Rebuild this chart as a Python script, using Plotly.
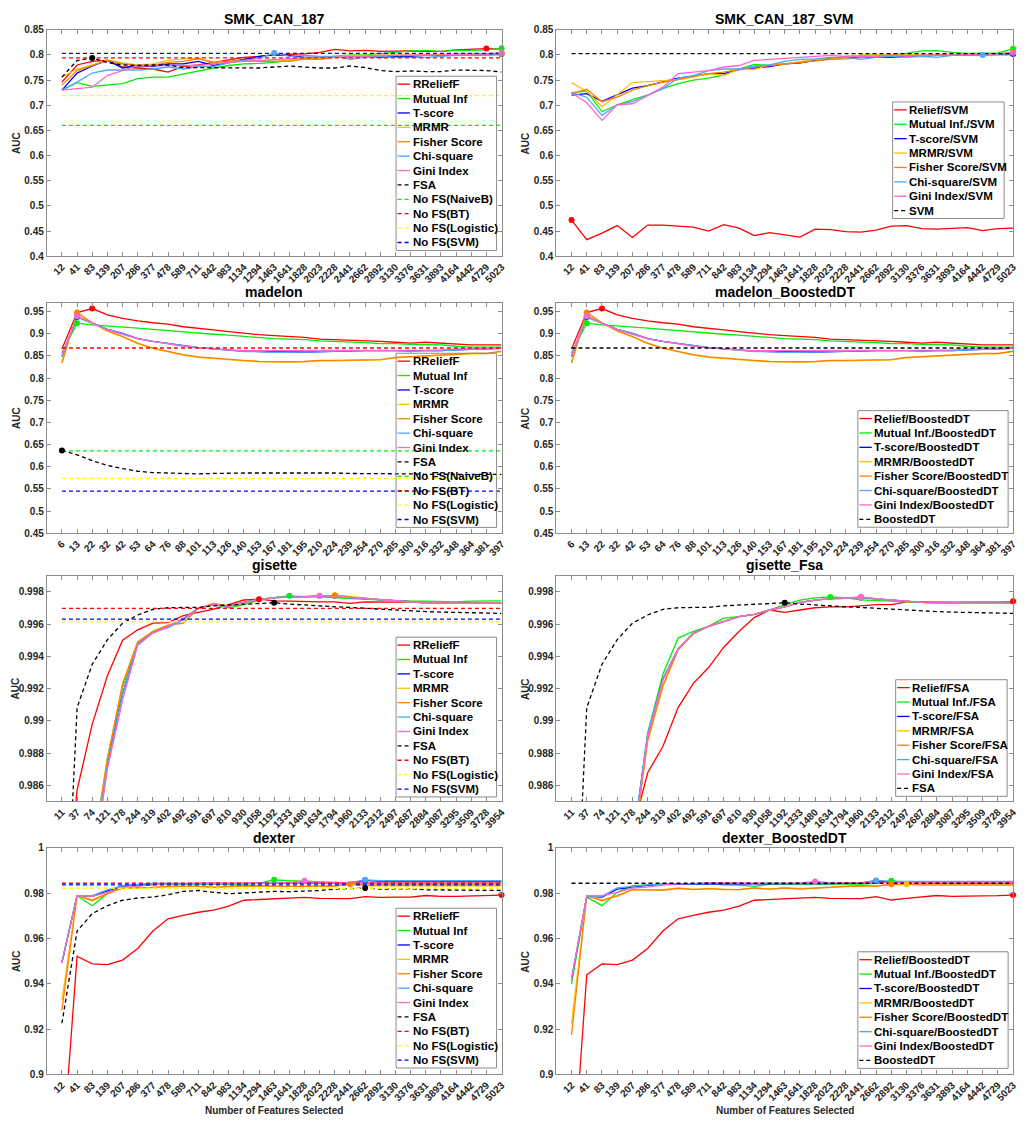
import numpy as np
import plotly.graph_objects as go

W, H = 1036, 1123
FONT = "Liberation Sans, Arial, sans-serif"
TXT = "#262626"
AXC = "#8c8c8c"

# ---------------- tick labels ----------------
smk_x = ["12", "41", "83", "139", "207", "286", "377", "478", "589", "711", "842", "983", "1134", "1294",
         "1463", "1641", "1828", "2023", "2228", "2441", "2662", "2892", "3130", "3376", "3631", "3893",
         "4164", "4442", "4729", "5023"]
mad_x = ["6", "13", "22", "32", "42", "53", "64", "76", "88", "101", "113", "126", "140", "153", "167",
         "181", "195", "210", "224", "239", "254", "270", "285", "300", "316", "332", "348", "364", "381", "397"]
gis_x = ["11", "37", "74", "121", "178", "244", "319", "402", "492", "591", "697", "810", "930", "1058",
         "1192", "1333", "1480", "1634", "1794", "1960", "2133", "2312", "2497", "2687", "2884", "3087",
         "3295", "3509", "3728", "3954"]
dex_x = list(smk_x)

# ---------------- SMK_CAN_187 ----------------
relief_smk = [0.746, 0.780, 0.787, 0.789, 0.776, 0.774, 0.772, 0.766, 0.777, 0.780, 0.785, 0.791, 0.795, 0.797, 0.800,
              0.801, 0.802, 0.805, 0.811, 0.808, 0.809, 0.807, 0.808, 0.808, 0.807, 0.807, 0.810, 0.811, 0.8125, 0.8115]
mi_smk = [0.730, 0.745, 0.7375, 0.741, 0.743, 0.753, 0.756, 0.756, 0.762, 0.769, 0.774, 0.779, 0.782, 0.783, 0.785,
          0.789, 0.792, 0.795, 0.797, 0.800, 0.800, 0.802, 0.805, 0.808, 0.809, 0.807, 0.809, 0.809, 0.810, 0.813]
ts_smk = [0.730, 0.764, 0.778, 0.789, 0.774, 0.779, 0.777, 0.782, 0.782, 0.787, 0.779, 0.785, 0.791, 0.797, 0.800,
          0.799, 0.795, 0.795, 0.795, 0.797, 0.797, 0.795, 0.797, 0.797, 0.799, 0.799, 0.800, 0.800, 0.800, 0.802]
mrmr_smk = [0.756, 0.772, 0.780, 0.789, 0.784, 0.780, 0.782, 0.789, 0.792, 0.793, 0.785, 0.787, 0.787, 0.789, 0.787,
            0.789, 0.792, 0.792, 0.795, 0.799, 0.799, 0.799, 0.799, 0.800, 0.800, 0.801, 0.801, 0.802, 0.802, 0.803]
fisher_smk = [0.740, 0.769, 0.779, 0.790, 0.782, 0.779, 0.779, 0.785, 0.787, 0.792, 0.785, 0.787, 0.789, 0.787, 0.787,
              0.787, 0.792, 0.791, 0.795, 0.795, 0.797, 0.799, 0.799, 0.799, 0.800, 0.800, 0.801, 0.801, 0.802, 0.803]
chi_smk = [0.730, 0.746, 0.764, 0.770, 0.770, 0.770, 0.772, 0.776, 0.772, 0.777, 0.777, 0.784, 0.789, 0.793, 0.804,
           0.797, 0.799, 0.797, 0.797, 0.791, 0.795, 0.797, 0.795, 0.795, 0.795, 0.797, 0.799, 0.799, 0.799, 0.800]
gini_smk = [0.730, 0.733, 0.736, 0.759, 0.769, 0.779, 0.779, 0.779, 0.780, 0.779, 0.782, 0.785, 0.787, 0.789, 0.790,
            0.792, 0.795, 0.795, 0.795, 0.797, 0.797, 0.799, 0.799, 0.800, 0.800, 0.800, 0.801, 0.802, 0.802, 0.805]
fsa_smk = [0.756, 0.789, 0.794, 0.785, 0.780, 0.779, 0.780, 0.780, 0.775, 0.775, 0.775, 0.775, 0.774, 0.774, 0.776,
           0.778, 0.776, 0.774, 0.774, 0.778, 0.775, 0.769, 0.767, 0.768, 0.767, 0.767, 0.770, 0.770, 0.769, 0.766]
smk_nofs = {"NaiveB": 0.660, "BT": 0.794, "Logistic": 0.719, "SVM": 0.803}

# ---------------- SMK_CAN_187_SVM ----------------
relief_svm = [0.472, 0.433, 0.446, 0.461, 0.4375, 0.462, 0.462, 0.460, 0.458, 0.450, 0.463, 0.456, 0.441, 0.447, 0.443,
              0.438, 0.454, 0.453, 0.449, 0.448, 0.452, 0.460, 0.461, 0.455, 0.454, 0.455, 0.457, 0.451, 0.455, 0.456]
mi_svm = [0.725, 0.728, 0.687, 0.701, 0.711, 0.720, 0.733, 0.743, 0.750, 0.754, 0.760, 0.772, 0.781, 0.779, 0.782,
          0.784, 0.789, 0.793, 0.797, 0.799, 0.799, 0.800, 0.803, 0.808, 0.8085, 0.805, 0.803, 0.803, 0.804, 0.812]
ts_svm = [0.720, 0.723, 0.708, 0.721, 0.734, 0.739, 0.746, 0.754, 0.758, 0.763, 0.763, 0.771, 0.774, 0.777, 0.782,
          0.784, 0.789, 0.792, 0.795, 0.795, 0.795, 0.795, 0.797, 0.797, 0.799, 0.799, 0.800, 0.800, 0.801, 0.802]
mrmr_svm = [0.745, 0.728, 0.697, 0.721, 0.745, 0.747, 0.749, 0.751, 0.756, 0.763, 0.759, 0.772, 0.771, 0.780, 0.782,
            0.787, 0.791, 0.792, 0.795, 0.800, 0.800, 0.800, 0.800, 0.800, 0.801, 0.800, 0.802, 0.802, 0.802, 0.805]
fisher_svm = [0.723, 0.732, 0.707, 0.716, 0.730, 0.739, 0.746, 0.751, 0.758, 0.763, 0.766, 0.771, 0.776, 0.779, 0.782,
              0.784, 0.787, 0.791, 0.792, 0.795, 0.797, 0.799, 0.799, 0.799, 0.799, 0.799, 0.799, 0.800, 0.802, 0.805]
chi_svm = [0.725, 0.716, 0.680, 0.701, 0.707, 0.720, 0.733, 0.754, 0.759, 0.769, 0.772, 0.772, 0.778, 0.780, 0.787,
           0.791, 0.792, 0.795, 0.795, 0.791, 0.795, 0.797, 0.795, 0.797, 0.795, 0.799, 0.799, 0.800, 0.799, 0.800]
gini_svm = [0.725, 0.705, 0.670, 0.701, 0.703, 0.720, 0.736, 0.763, 0.766, 0.769, 0.776, 0.779, 0.789, 0.791, 0.792,
            0.795, 0.797, 0.799, 0.797, 0.797, 0.797, 0.800, 0.797, 0.799, 0.799, 0.800, 0.801, 0.801, 0.802, 0.805]
svm_base = 0.8025

# ---------------- madelon ----------------
relief_mad = [0.866, 0.948, 0.957, 0.943, 0.935, 0.929, 0.925, 0.922, 0.916, 0.913, 0.909, 0.905, 0.901, 0.898, 0.896,
              0.894, 0.892, 0.888, 0.887, 0.885, 0.884, 0.883, 0.881, 0.879, 0.881, 0.879, 0.877, 0.875, 0.875, 0.875]
mi_mad = [0.857, 0.924, 0.920, 0.918, 0.915, 0.913, 0.910, 0.907, 0.905, 0.901, 0.899, 0.897, 0.894, 0.891, 0.889,
          0.888, 0.887, 0.884, 0.883, 0.881, 0.880, 0.878, 0.878, 0.876, 0.875, 0.875, 0.872, 0.870, 0.870, 0.870]
ts_mad = [0.849, 0.938, 0.924, 0.910, 0.901, 0.889, 0.883, 0.878, 0.873, 0.869, 0.866, 0.863, 0.861, 0.860, 0.859,
          0.859, 0.859, 0.860, 0.861, 0.862, 0.862, 0.862, 0.862, 0.861, 0.862, 0.862, 0.864, 0.865, 0.866, 0.867]
mrmr_mad = [0.836, 0.946, 0.924, 0.906, 0.893, 0.878, 0.867, 0.859, 0.852, 0.847, 0.844, 0.841, 0.839, 0.837, 0.836,
            0.836, 0.837, 0.839, 0.839, 0.840, 0.841, 0.841, 0.846, 0.848, 0.850, 0.852, 0.853, 0.855, 0.855, 0.860]
fisher_mad = [0.834, 0.948, 0.925, 0.907, 0.894, 0.879, 0.868, 0.860, 0.853, 0.848, 0.845, 0.842, 0.840, 0.838, 0.837,
              0.837, 0.838, 0.840, 0.840, 0.841, 0.842, 0.842, 0.847, 0.849, 0.851, 0.853, 0.854, 0.856, 0.856, 0.861]
chi_mad = [0.849, 0.939, 0.924, 0.910, 0.901, 0.889, 0.883, 0.878, 0.873, 0.869, 0.866, 0.863, 0.860, 0.860, 0.858,
           0.858, 0.859, 0.860, 0.860, 0.862, 0.862, 0.862, 0.862, 0.860, 0.862, 0.862, 0.864, 0.865, 0.866, 0.867]
gini_mad = [0.853, 0.940, 0.924, 0.909, 0.899, 0.889, 0.883, 0.877, 0.872, 0.869, 0.866, 0.864, 0.862, 0.862, 0.862,
            0.862, 0.862, 0.862, 0.862, 0.863, 0.862, 0.862, 0.862, 0.863, 0.863, 0.864, 0.866, 0.866, 0.866, 0.867]
fsa_mad = [0.637, 0.627, 0.614, 0.603, 0.596, 0.590, 0.587, 0.586, 0.584, 0.584, 0.585, 0.586, 0.586, 0.586, 0.586,
           0.587, 0.587, 0.586, 0.586, 0.585, 0.585, 0.585, 0.584, 0.584, 0.583, 0.583, 0.583, 0.583, 0.583, 0.583]
mad_nofs = {"NaiveB": 0.636, "BT": 0.868, "Logistic": 0.574, "SVM": 0.545}
mad_bdt_base = 0.868

# ---------------- gisette ----------------
relief_gis = [0.9770, 0.9857, 0.9898, 0.9928, 0.9950, 0.99565, 0.99606, 0.99610, 0.99653, 0.99673, 0.99694, 0.99722,
              0.99750, 0.99755, 0.99745, 0.99743, 0.99739, 0.99739, 0.99739, 0.99729, 0.99739, 0.99739, 0.99739,
              0.99735, 0.99735, 0.99733, 0.99733, 0.99733, 0.99733, 0.99729]
mi_gis = [0.9700, 0.9750, 0.9816, 0.9877, 0.99208, 0.99488, 0.99551, 0.99586, 0.99633, 0.99698, 0.99722, 0.99702,
          0.99722, 0.99749, 0.99765, 0.99776, 0.99771, 0.99769, 0.99765, 0.99759, 0.99755, 0.99749, 0.99745,
          0.99743, 0.99743, 0.99739, 0.99739, 0.99743, 0.99743, 0.99745]
ts_gis = [0.9700, 0.9750, 0.9810, 0.9874, 0.99167, 0.99478, 0.99547, 0.99586, 0.99633, 0.99698, 0.99724, 0.99712,
          0.99735, 0.99753, 0.99765, 0.99767, 0.99769, 0.99771, 0.99777, 0.99765, 0.99759, 0.99751, 0.99745,
          0.99737, 0.99733, 0.99731, 0.99729, 0.99729, 0.99729, 0.99729]
mrmr_gis = [0.9700, 0.9750, 0.9815, 0.9876, 0.99229, 0.99490, 0.99555, 0.99594, 0.99606, 0.99698, 0.99729, 0.99712,
            0.99733, 0.99753, 0.99765, 0.99767, 0.99769, 0.99773, 0.99778, 0.99767, 0.99761, 0.99753, 0.99743,
            0.99737, 0.99733, 0.99731, 0.99729, 0.99729, 0.99729, 0.99729]
fisher_gis = [0.9700, 0.9750, 0.9815, 0.9876, 0.99229, 0.99490, 0.99555, 0.99594, 0.99606, 0.99698, 0.99729, 0.99712,
              0.99733, 0.99753, 0.99765, 0.99767, 0.99769, 0.99773, 0.99780, 0.99769, 0.99761, 0.99753, 0.99743,
              0.99737, 0.99733, 0.99731, 0.99729, 0.99729, 0.99729, 0.99729]
chi_gis = [0.9700, 0.9750, 0.9810, 0.9872, 0.99167, 0.99478, 0.99547, 0.99578, 0.99625, 0.99698, 0.99722, 0.99712,
           0.99735, 0.99753, 0.99765, 0.99767, 0.99769, 0.99775, 0.99769, 0.99765, 0.99759, 0.99751, 0.99745,
           0.99737, 0.99733, 0.99731, 0.99729, 0.99729, 0.99729, 0.99729]
gini_gis = [0.9700, 0.9750, 0.9805, 0.9870, 0.99127, 0.99468, 0.99545, 0.99586, 0.99633, 0.99698, 0.99722, 0.99712,
            0.99735, 0.99753, 0.99765, 0.99767, 0.99769, 0.99776, 0.99773, 0.99765, 0.99759, 0.99751, 0.99745,
            0.99737, 0.99733, 0.99731, 0.99729, 0.99729, 0.99729, 0.99729]
fsa_gis = [0.9710, 0.99082, 0.99351, 0.99504, 0.99606, 0.99657, 0.99692, 0.99702, 0.99704, 0.99704, 0.99714, 0.99718,
           0.99722, 0.99729, 0.99733, 0.99725, 0.99718, 0.99714, 0.99708, 0.99704, 0.99698, 0.99692, 0.99688,
           0.99682, 0.99678, 0.99675, 0.99675, 0.99671, 0.99669, 0.99667]
gis_nofs = {"BT": 0.99698, "Logistic": 0.99616, "SVM": 0.99631}

# ---------------- gisette_Fsa ----------------
relief_gfsa = [0.9650, 0.9700, 0.9730, 0.9780, 0.9831, 0.98678, 0.98841, 0.99082, 0.99233, 0.99331, 0.99457, 0.99555,
               0.99641, 0.99688, 0.99673, 0.99688, 0.99702, 0.99708, 0.99708, 0.99714, 0.99722, 0.99722, 0.99739,
               0.99739, 0.99735, 0.99733, 0.99735, 0.99735, 0.99735, 0.99742]
mi_gfsa = [0.9650, 0.9700, 0.9740, 0.9780, 0.9821, 0.98922, 0.99290, 0.99514, 0.99555, 0.99586, 0.99637, 0.99647,
           0.99661, 0.99688, 0.99722, 0.99749, 0.99763, 0.99769, 0.99763, 0.99751, 0.99749, 0.99743, 0.99739,
           0.99739, 0.99737, 0.99737, 0.99737, 0.99737, 0.99737, 0.99739]
ts_gfsa = [0.9650, 0.9700, 0.9740, 0.9780, 0.9822, 0.98910, 0.99260, 0.99445, 0.99545, 0.99586, 0.99616, 0.99647,
           0.99661, 0.99688, 0.99708, 0.99735, 0.99749, 0.99759, 0.99761, 0.99765, 0.99757, 0.99749, 0.99741,
           0.99735, 0.99733, 0.99731, 0.99731, 0.99731, 0.99731, 0.99731]
mrmr_gfsa = [0.9650, 0.9700, 0.9740, 0.9780, 0.9818, 0.98870, 0.99210, 0.99440, 0.99540, 0.99586, 0.99616, 0.99647,
             0.99661, 0.99688, 0.99708, 0.99735, 0.99749, 0.99759, 0.99761, 0.99765, 0.99757, 0.99749, 0.99741,
             0.99735, 0.99733, 0.99731, 0.99731, 0.99731, 0.99731, 0.99731]
fisher_gfsa = [0.9650, 0.9700, 0.9740, 0.9780, 0.9818, 0.98880, 0.99220, 0.99441, 0.99541, 0.99586, 0.99616, 0.99647,
               0.99661, 0.99688, 0.99708, 0.99735, 0.99749, 0.99759, 0.99761, 0.99765, 0.99757, 0.99749, 0.99741,
               0.99735, 0.99733, 0.99731, 0.99731, 0.99731, 0.99731, 0.99731]
chi_gfsa = [0.9650, 0.9700, 0.9740, 0.9780, 0.9823, 0.98920, 0.99260, 0.99445, 0.99545, 0.99586, 0.99616, 0.99647,
            0.99661, 0.99688, 0.99708, 0.99735, 0.99749, 0.99759, 0.99761, 0.99765, 0.99757, 0.99749, 0.99741,
            0.99735, 0.99733, 0.99731, 0.99731, 0.99731, 0.99731, 0.99731]
gini_gfsa = [0.9650, 0.9700, 0.9740, 0.9780, 0.9820, 0.98900, 0.99250, 0.99447, 0.99547, 0.99586, 0.99616, 0.99647,
             0.99661, 0.99688, 0.99708, 0.99735, 0.99749, 0.99759, 0.99763, 0.99769, 0.99759, 0.99751, 0.99741,
             0.99735, 0.99733, 0.99731, 0.99731, 0.99731, 0.99731, 0.99731]

# ---------------- dexter ----------------
relief_dex = [0.862, 0.9522, 0.9488, 0.9485, 0.9505, 0.9556, 0.9633, 0.9687, 0.9702, 0.9716, 0.9725, 0.9743, 0.9769,
              0.9772, 0.9777, 0.9780, 0.9782, 0.9777, 0.9777, 0.9776, 0.9785, 0.9782, 0.9783, 0.9783, 0.9790, 0.9786,
              0.9786, 0.9789, 0.9789, 0.9792]
mi_dex = [0.9495, 0.9789, 0.9745, 0.9798, 0.9833, 0.9837, 0.9840, 0.9840, 0.9840, 0.9840, 0.9837, 0.9840, 0.9840,
          0.9844, 0.9859, 0.9855, 0.9852, 0.9852, 0.9847, 0.9846, 0.9844, 0.9844, 0.9844, 0.9844, 0.9844, 0.9844,
          0.9844, 0.9844, 0.9844, 0.9844]
ts_dex = [0.9495, 0.9789, 0.9786, 0.9810, 0.9830, 0.9838, 0.9842, 0.9842, 0.9841, 0.9841, 0.9841, 0.9841, 0.9841,
          0.9841, 0.9841, 0.9842, 0.9843, 0.9844, 0.9845, 0.9846, 0.9857, 0.9852, 0.9852, 0.9852, 0.9852, 0.9852,
          0.9852, 0.9852, 0.9852, 0.9852]
mrmr_dex = [0.9328, 0.9789, 0.9772, 0.9798, 0.9823, 0.9823, 0.9826, 0.9830, 0.9830, 0.9830, 0.9827, 0.9830, 0.9830,
            0.9830, 0.9827, 0.9827, 0.9827, 0.9827, 0.9830, 0.9839, 0.9833, 0.9833, 0.9833, 0.9833, 0.9833, 0.9833,
            0.9833, 0.9833, 0.9833, 0.9833]
fisher_dex = [0.9284, 0.9789, 0.9767, 0.9798, 0.9823, 0.9823, 0.9826, 0.9830, 0.9830, 0.9830, 0.9826, 0.9830, 0.9833,
              0.9833, 0.9830, 0.9830, 0.9830, 0.9830, 0.9833, 0.9841, 0.9837, 0.9837, 0.9837, 0.9837, 0.9837, 0.9837,
              0.9837, 0.9837, 0.9837, 0.9837]
chi_dex = [0.9495, 0.9789, 0.9789, 0.9815, 0.9833, 0.9840, 0.9844, 0.9844, 0.9842, 0.9842, 0.9842, 0.9842, 0.9842,
           0.9842, 0.9842, 0.9843, 0.9844, 0.9845, 0.9846, 0.9847, 0.9859, 0.9855, 0.9855, 0.9855, 0.9855, 0.9855,
           0.9855, 0.9855, 0.9855, 0.9855]
gini_dex = [0.9495, 0.9789, 0.9786, 0.9804, 0.9827, 0.9830, 0.9837, 0.9842, 0.9842, 0.9844, 0.9847, 0.9844, 0.9844,
            0.9844, 0.9844, 0.9844, 0.9855, 0.9847, 0.9847, 0.9847, 0.9847, 0.9847, 0.9847, 0.9847, 0.9847, 0.9847,
            0.9847, 0.9847, 0.9847, 0.9847]
fsa_dex = [0.9226, 0.9633, 0.9710, 0.9745, 0.9769, 0.9779, 0.9783, 0.9793, 0.9808, 0.9812, 0.9804, 0.9798, 0.9801,
           0.9805, 0.9808, 0.9807, 0.9808, 0.9812, 0.9818, 0.9820, 0.9823, 0.9818, 0.9818, 0.9820, 0.9815, 0.9815,
           0.9815, 0.9812, 0.9812, 0.9812]
dex_nofs = {"BT": 0.9844, "Logistic": 0.9822, "SVM": 0.9837}

# ---------------- dexter_BoostedDT ----------------
relief_dbt = [0.850, 0.9440, 0.9488, 0.9485, 0.9505, 0.9556, 0.9633, 0.9687, 0.9702, 0.9716, 0.9725, 0.9743, 0.9769,
              0.9772, 0.9777, 0.9780, 0.9782, 0.9777, 0.9777, 0.9776, 0.9785, 0.9770, 0.9777, 0.9783, 0.9790, 0.9786,
              0.9786, 0.9789, 0.9789, 0.9792]
mi_dbt = [0.9400, 0.9783, 0.9745, 0.9804, 0.9833, 0.9837, 0.9840, 0.9840, 0.9840, 0.9844, 0.9837, 0.9836, 0.9830,
          0.9840, 0.9840, 0.9837, 0.9837, 0.9837, 0.9840, 0.9840, 0.9844, 0.9855, 0.9847, 0.9844, 0.9844, 0.9844,
          0.9844, 0.9844, 0.9844, 0.9844]
ts_dbt = [0.9420, 0.9786, 0.9783, 0.9818, 0.9827, 0.9835, 0.9838, 0.9840, 0.9840, 0.9840, 0.9840, 0.9840, 0.9840,
          0.9840, 0.9840, 0.9841, 0.9842, 0.9843, 0.9844, 0.9845, 0.9854, 0.9850, 0.9850, 0.9850, 0.9850, 0.9850,
          0.9850, 0.9850, 0.9850, 0.9850]
mrmr_dbt = [0.9226, 0.9789, 0.9772, 0.9786, 0.9816, 0.9816, 0.9816, 0.9822, 0.9818, 0.9820, 0.9818, 0.9816, 0.9823,
            0.9818, 0.9823, 0.9821, 0.9823, 0.9827, 0.9830, 0.9833, 0.9833, 0.9836, 0.9840, 0.9837, 0.9837, 0.9837,
            0.9836, 0.9836, 0.9836, 0.9836]
fisher_dbt = [0.9175, 0.9789, 0.9767, 0.9789, 0.9816, 0.9816, 0.9813, 0.9822, 0.9816, 0.9820, 0.9816, 0.9816, 0.9823,
              0.9818, 0.9823, 0.9818, 0.9823, 0.9827, 0.9830, 0.9833, 0.9830, 0.9840, 0.9837, 0.9837, 0.9837, 0.9837,
              0.9837, 0.9837, 0.9837, 0.9837]
chi_dbt = [0.9420, 0.9786, 0.9786, 0.9823, 0.9830, 0.9837, 0.9840, 0.9842, 0.9842, 0.9842, 0.9842, 0.9842, 0.9842,
           0.9842, 0.9842, 0.9843, 0.9844, 0.9845, 0.9846, 0.9847, 0.9856, 0.9852, 0.9852, 0.9852, 0.9852, 0.9852,
           0.9852, 0.9852, 0.9852, 0.9852]
gini_dbt = [0.9420, 0.9789, 0.9789, 0.9804, 0.9823, 0.9827, 0.9837, 0.9842, 0.9842, 0.9847, 0.9847, 0.9844, 0.9844,
            0.9844, 0.9844, 0.9844, 0.9852, 0.9847, 0.9847, 0.9847, 0.9847, 0.9847, 0.9847, 0.9847, 0.9847, 0.9847,
            0.9847, 0.9847, 0.9847, 0.9847]
dex_bdt_base = 0.9844

# ---------------- styles ----------------
C = {"relief": "#FF0000", "mi": "#00EE00", "ts": "#0000FF", "mrmr": "#FFC000", "fisher": "#FF8000",
     "chi": "#4DA6FF", "gini": "#FF66CC", "black": "#000000", "yellow": "#FFFF00"}
DASH = "4px,3px"


def left_series(vals, nofs):
    names = ["RReliefF", "Mutual Inf", "T-score", "MRMR", "Fisher Score", "Chi-square", "Gini Index"]
    keys = ["relief", "mi", "ts", "mrmr", "fisher", "chi", "gini"]
    s = [dict(name=n, y=v, color=C[k], dash="solid", base=False) for n, k, v in zip(names, keys, vals[:7])]
    s.append(dict(name="FSA", y=vals[7], color=C["black"], dash=DASH, base=False))
    bases = [("NaiveB", "#00EE00"), ("BT", "#FF0000"), ("Logistic", C["yellow"]), ("SVM", "#0000FF")]
    for b, col in bases:
        if b in nofs:
            s.append(dict(name="No FS(%s)" % b, y=[nofs[b]] * 30, color=col, dash=DASH, base=True))
    return s


def right_series(vals, suffix, last_name, last_vals, last_is_base):
    names = ["Relief", "Mutual Inf.", "T-score", "MRMR", "Fisher Score", "Chi-square", "Gini Index"]
    keys = ["relief", "mi", "ts", "mrmr", "fisher", "chi", "gini"]
    s = [dict(name=n + "/" + suffix, y=v, color=C[k], dash="solid", base=False) for n, k, v in zip(names, keys, vals)]
    s.append(dict(name=last_name, y=last_vals, color=C["black"], dash=DASH, base=last_is_base))
    return s


panels = [
    dict(title="SMK_CAN_187", xl=smk_x, yr=[0.4, 0.85], yt=(0.4, 0.85, 0.05),
         series=left_series([relief_smk, mi_smk, ts_smk, mrmr_smk, fisher_smk, chi_smk, gini_smk, fsa_smk], smk_nofs),
         leg=(398, 71, 499)),
    dict(title="SMK_CAN_187_SVM", xl=smk_x, yr=[0.4, 0.85], yt=(0.4, 0.85, 0.05),
         series=right_series([relief_svm, mi_svm, ts_svm, mrmr_svm, fisher_svm, chi_svm, gini_svm], "SVM",
                             "SVM", [svm_base] * 30, True),
         leg=(897, 97, 1009)),
    dict(title="madelon", xl=mad_x, yr=[0.45, 0.97], yt=(0.45, 0.95, 0.05),
         series=left_series([relief_mad, mi_mad, ts_mad, mrmr_mad, fisher_mad, chi_mad, gini_mad, fsa_mad], mad_nofs),
         leg=(398, 351, 499)),
    dict(title="madelon_BoostedDT", xl=mad_x, yr=[0.45, 0.97], yt=(0.45, 0.95, 0.05),
         series=right_series([relief_mad, mi_mad, ts_mad, mrmr_mad, fisher_mad, chi_mad, gini_mad], "BoostedDT",
                             "BoostedDT", [mad_bdt_base] * 30, True),
         leg=(862, 409, 1013)),
    dict(title="gisette", xl=gis_x, yr=[0.985, 0.999], yt=(0.986, 0.998, 0.002),
         series=left_series([relief_gis, mi_gis, ts_gis, mrmr_gis, fisher_gis, chi_gis, gini_gis, fsa_gis], gis_nofs),
         leg=(398, 638, 499)),
    dict(title="gisette_Fsa", xl=gis_x, yr=[0.985, 0.999], yt=(0.986, 0.998, 0.002),
         series=right_series([relief_gfsa, mi_gfsa, ts_gfsa, mrmr_gfsa, fisher_gfsa, chi_gfsa, gini_gfsa], "FSA",
                             "FSA", fsa_gis, False),
         leg=(900, 681, 1012)),
    dict(title="dexter", xl=dex_x, yr=[0.9, 1.0], yt=(0.9, 1.0, 0.02),
         series=left_series([relief_dex, mi_dex, ts_dex, mrmr_dex, fisher_dex, chi_dex, gini_dex, fsa_dex], dex_nofs),
         leg=(398, 912, 499)),
    dict(title="dexter_BoostedDT", xl=dex_x, yr=[0.9, 1.0], yt=(0.9, 1.0, 0.02),
         series=right_series([relief_dbt, mi_dbt, ts_dbt, mrmr_dbt, fisher_dbt, chi_dbt, gini_dbt], "BoostedDT",
                             "BoostedDT", [dex_bdt_base] * 30, True),
         leg=(862, 956, 1013)),
]

# layout geometry (pixels)
COLX = [(47, 504), (559, 1018)]
ROWY = [(24, 253), (300, 533), (576, 804), (851, 1080)]


def px(x):
    return x / W


def py(y):
    return 1 - y / H


fig = go.Figure()
annotations, shapes = [], []
layout_axes = {}

for k, p in enumerate(panels):
    r, c = divmod(k, 2)
    x0, x1 = COLX[c]
    y0, y1 = ROWY[r]
    ax = "" if k == 0 else str(k + 1)
    xs = list(range(1, len(p["xl"]) + 1))
    lo, hi, st = p["yt"]
    tv = [round(v, 4) for v in np.arange(lo, hi + st / 2, st)]
    layout_axes["xaxis" + ax] = dict(
        domain=[px(x0), px(x1)], anchor="y" + ax, range=[0, len(xs)], tickvals=xs, ticktext=p["xl"],
        tickangle=-45, showline=True, linecolor=AXC, linewidth=1, mirror="ticks", ticks="inside",
        ticklen=4, tickcolor=AXC, showgrid=False, zeroline=False,
        tickfont=dict(family=FONT, size=10, color=TXT, weight="bold"))
    layout_axes["yaxis" + ax] = dict(
        domain=[py(y1), py(y0)], anchor="x" + ax, range=p["yr"], tickvals=tv, ticktext=["%g" % v for v in tv],
        showline=True, linecolor=AXC, linewidth=1, mirror="ticks", ticks="inside", ticklen=4, tickcolor=AXC,
        showgrid=False, zeroline=False, tickfont=dict(family=FONT, size=10, color=TXT, weight="bold"))

    # lines
    for s in p["series"]:
        fig.add_trace(go.Scatter(x=xs, y=s["y"], mode="lines", name=s["name"], xaxis="x" + ax, yaxis="y" + ax,
                                 line=dict(color=s["color"], width=1.3, dash=s["dash"]),
                                 showlegend=False, hoverinfo="skip"))
    # best-value markers
    for s in p["series"]:
        if s["base"]:
            continue
        i = int(np.argmax(s["y"]))
        fig.add_trace(go.Scatter(x=[xs[i]], y=[s["y"][i]], mode="markers", xaxis="x" + ax, yaxis="y" + ax,
                                 marker=dict(color=s["color"], size=6), cliponaxis=False,
                                 showlegend=False, hoverinfo="skip"))

    # title
    annotations.append(dict(text=p["title"], x=px((x0 + x1) / 2), y=py(y0 - 10.5), xref="paper", yref="paper",
                            showarrow=False, xanchor="center", yanchor="middle",
                            font=dict(family=FONT, size=14, color="#000000", weight="bold")))
    annotations.append(dict(text="AUC", x=px(x0 - 31), y=py((y0 + y1) / 2), xref="paper", yref="paper",
                            showarrow=False, textangle=-90, xanchor="center", yanchor="middle",
                            font=dict(family=FONT, size=10, color=TXT, weight="bold")))
    if r == 3:
        annotations.append(dict(text="Number of Features Selected", x=px((x0 + x1) / 2), y=py(y1 + 36),
                                xref="paper", yref="paper", showarrow=False, xanchor="center", yanchor="middle",
                                font=dict(family=FONT, size=10, color=TXT, weight="bold")))

    # legend box
    lx, ly, rx = p["leg"]
    n = len(p["series"])
    step = 14.55
    by = ly + 16 + step * (n - 1)
    shapes.append(dict(type="rect", xref="paper", yref="paper", x0=px(lx), x1=px(rx), y0=py(by), y1=py(ly),
                       line=dict(color=AXC, width=1), fillcolor="rgba(0,0,0,0)", layer="above"))
    for j, s in enumerate(p["series"]):
        yy = ly + 8 + step * j
        shapes.append(dict(type="line", xref="paper", yref="paper", x0=px(lx + 1.5), x1=px(lx + 14),
                           y0=py(yy), y1=py(yy), line=dict(color=s["color"], width=1.3, dash=s["dash"]),
                           layer="above"))
        annotations.append(dict(text=s["name"], x=px(lx + 14.5), y=py(yy), xref="paper", yref="paper",
                                showarrow=False, xanchor="left", yanchor="middle",
                                font=dict(family=FONT, size=11.5, color="#000000", weight="bold")))

fig.update_layout(width=W, height=H, margin=dict(l=0, r=0, t=0, b=0), paper_bgcolor="white",
                  plot_bgcolor="white", showlegend=False, annotations=annotations, shapes=shapes,
                  font=dict(family=FONT), **layout_axes)

fig.write_html("out.html", config={"displayModeBar": False, "staticPlot": True},
               post_script="document.body.style.margin='0';document.body.style.padding='0';"
                           "document.body.style.overflow='hidden';")
